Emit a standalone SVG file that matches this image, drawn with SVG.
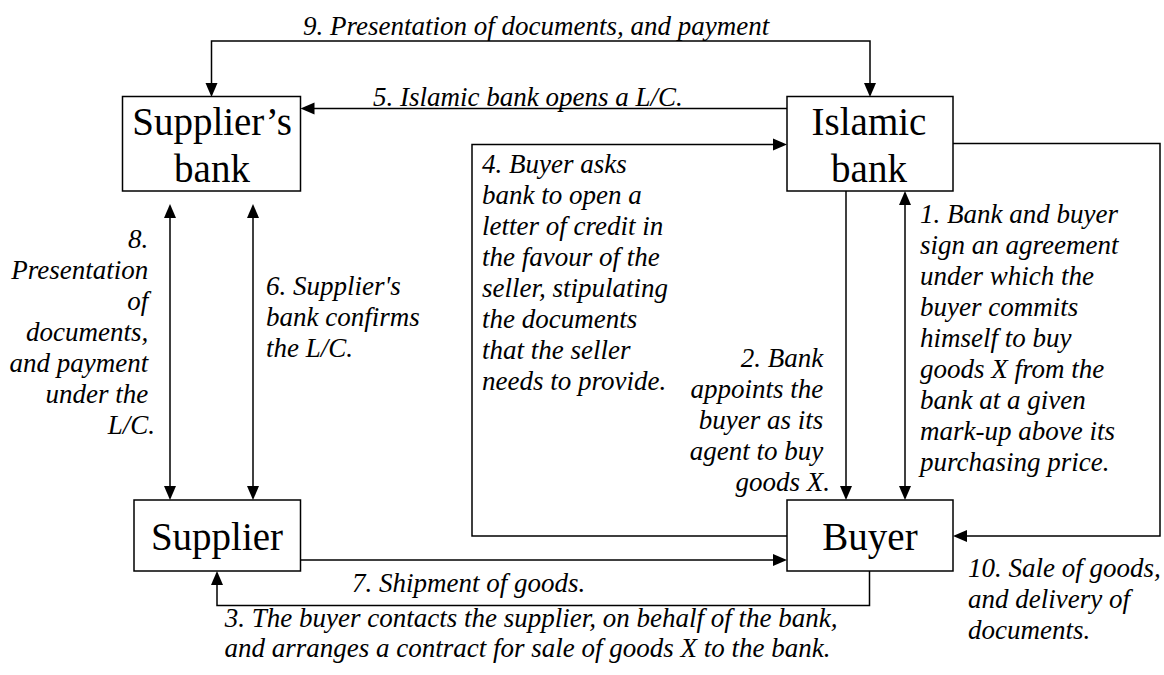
<svg xmlns="http://www.w3.org/2000/svg" width="1164" height="675" viewBox="0 0 1164 675">
  <style>
    .box { fill: #fff; stroke: #000; stroke-width: 1.5; }
    .wire { fill: none; stroke: #000; stroke-width: 1.5; }
    .tip { fill: #000; stroke: none; }
  </style>
  <rect width="1164" height="675" fill="#fff"/>

  <!-- connectors: lines plus filled arrowheads -->
  <g id="connectors">
    <!-- 9: between the two banks, over the top -->
    <path class="wire" d="M211.5,90 V41 H870 V90"/>
    <polygon class="tip" points="205.5,83 217.5,83 211.5,97"/>
    <polygon class="tip" points="864,83 876,83 870,97"/>
    <!-- 5: Islamic bank to supplier's bank -->
    <path class="wire" d="M787,108.5 H307"/>
    <polygon class="tip" points="314.5,102.5 314.5,114.5 300.5,108.5"/>
    <!-- 4: buyer to Islamic bank -->
    <path class="wire" d="M787,536 H472 V144.5 H780"/>
    <polygon class="tip" points="773,138.5 773,150.5 787,144.5"/>
    <!-- 10: Islamic bank to buyer -->
    <path class="wire" d="M953,143.5 H1160 V536 H960"/>
    <polygon class="tip" points="967,530 967,542 953,536"/>
    <!-- 2: Islamic bank to buyer -->
    <path class="wire" d="M846,191 V493"/>
    <polygon class="tip" points="840,486 852,486 846,500"/>
    <!-- 1: bank and buyer agreement -->
    <path class="wire" d="M905,198 V493"/>
    <polygon class="tip" points="899,205 911,205 905,191"/>
    <polygon class="tip" points="899,486 911,486 905,500"/>
    <!-- 8: supplier's bank and supplier -->
    <path class="wire" d="M170,211 V493"/>
    <polygon class="tip" points="164,218 176,218 170,204"/>
    <polygon class="tip" points="164,486 176,486 170,500"/>
    <!-- 6: supplier's bank and supplier -->
    <path class="wire" d="M253,211 V493"/>
    <polygon class="tip" points="247,218 259,218 253,204"/>
    <polygon class="tip" points="247,486 259,486 253,500"/>
    <!-- 7: shipment -->
    <path class="wire" d="M300.5,560 H780"/>
    <polygon class="tip" points="773,554 773,566 787,560"/>
    <!-- 3: buyer contacts supplier -->
    <path class="wire" d="M869.5,571 V605.5 H217 V578"/>
    <polygon class="tip" points="211,585 223,585 217,571"/>
  </g>

  <!-- nodes -->
  <g id="suppliers-bank">
    <rect class="box" x="122.5" y="96.5" width="178" height="94.5"/>
    <text font-family="Liberation Serif" font-size="39" text-anchor="middle" x="212" y="135">Supplier’s</text>
    <text font-family="Liberation Serif" font-size="39" text-anchor="middle" x="212" y="181.5">bank</text>
  </g>
  <g id="islamic-bank">
    <rect class="box" x="787" y="96.5" width="166" height="94.5"/>
    <text font-family="Liberation Serif" font-size="39" text-anchor="middle" x="869" y="135">Islamic</text>
    <text font-family="Liberation Serif" font-size="39" text-anchor="middle" x="869" y="181.5">bank</text>
  </g>
  <g id="supplier">
    <rect class="box" x="134" y="500" width="166.5" height="71"/>
    <text font-family="Liberation Serif" font-size="39" text-anchor="middle" x="217" y="550">Supplier</text>
  </g>
  <g id="buyer">
    <rect class="box" x="787" y="500" width="166" height="71"/>
    <text font-family="Liberation Serif" font-size="39" text-anchor="middle" x="870" y="550">Buyer</text>
  </g>

  <!-- step labels -->
  <g id="labels" font-family="Liberation Serif" font-style="italic" font-size="27">
    <text x="303" y="35">9. Presentation of documents, and payment</text>
    <text x="373" y="106">5. Islamic bank opens a L/C.</text>

    <text>
      <tspan x="482" y="173">4. Buyer asks</tspan>
      <tspan x="482" y="204">bank  to open a</tspan>
      <tspan x="482" y="235">letter of credit in</tspan>
      <tspan x="482" y="266">the favour of the</tspan>
      <tspan x="482" y="297">seller, stipulating</tspan>
      <tspan x="482" y="328">the documents</tspan>
      <tspan x="482" y="359">that the seller</tspan>
      <tspan x="482" y="390">needs to provide.</tspan>
    </text>

    <text text-anchor="end">
      <tspan x="830" y="367">2. Bank</tspan>
      <tspan x="830" y="398">appoints the</tspan>
      <tspan x="830" y="429">buyer as its</tspan>
      <tspan x="830" y="460">agent to buy</tspan>
      <tspan x="830" y="491">goods X.</tspan>
    </text>

    <text>
      <tspan x="920" y="223">1. Bank and buyer</tspan>
      <tspan x="920" y="254">sign an agreement</tspan>
      <tspan x="920" y="285">under which the</tspan>
      <tspan x="920" y="316">buyer commits</tspan>
      <tspan x="920" y="347">himself to buy</tspan>
      <tspan x="920" y="378">goods X from the</tspan>
      <tspan x="920" y="409">bank at a given</tspan>
      <tspan x="920" y="440">mark-up above its</tspan>
      <tspan x="920" y="471">purchasing price.</tspan>
    </text>

    <text text-anchor="end">
      <tspan x="155" y="248">8.</tspan>
      <tspan x="155" y="279">Presentation</tspan>
      <tspan x="155" y="310">of</tspan>
      <tspan x="155" y="341">documents,</tspan>
      <tspan x="155" y="372">and payment</tspan>
      <tspan x="155" y="403">under the</tspan>
      <tspan x="155" y="434">L/C.</tspan>
    </text>

    <text>
      <tspan x="266" y="295">6. Supplier's</tspan>
      <tspan x="266" y="326">bank confirms</tspan>
      <tspan x="266" y="357">the L/C.</tspan>
    </text>

    <text x="352" y="592">7. Shipment of goods.</text>

    <text text-anchor="middle">
      <tspan x="534.5" y="627">3. The buyer contacts the supplier, on behalf of the bank,</tspan>
      <tspan x="527.5" y="657">and arranges a contract for sale of goods X to the bank.</tspan>
    </text>

    <text>
      <tspan x="968" y="577">10. Sale of goods,</tspan>
      <tspan x="968" y="608">and delivery of</tspan>
      <tspan x="968" y="639">documents.</tspan>
    </text>
  </g>
</svg>
